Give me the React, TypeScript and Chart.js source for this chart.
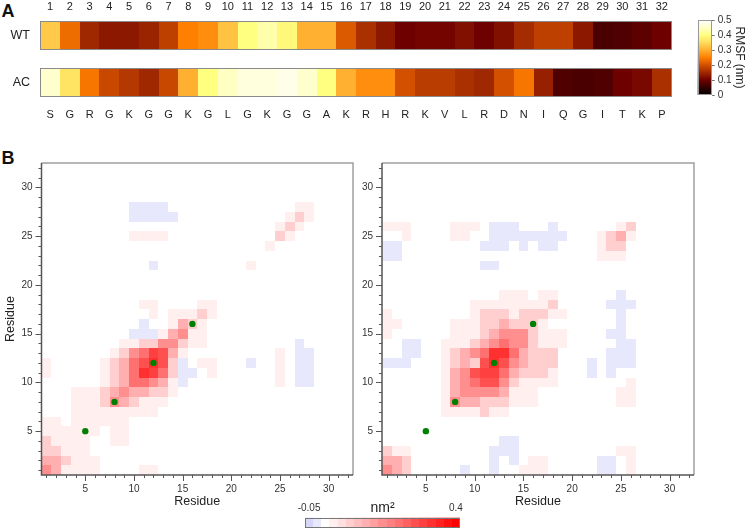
import React, { useEffect, useRef } from 'react';
import { Chart, registerables } from 'chart.js';

Chart.register(...registerables);

const FONT = "'Liberation Sans', Arial, Helvetica, sans-serif";
Chart.defaults.font.family = FONT;
Chart.defaults.color = '#333';

// ---------------- data ----------------
const residueNumbers = [1, 2, 3, 4, 5, 6, 7, 8, 9, 10, 11, 12, 13, 14, 15, 16, 17, 18, 19, 20, 21, 22, 23, 24, 25, 26, 27, 28, 29, 30, 31, 32];
const sequence = ['S', 'G', 'R', 'G', 'K', 'G', 'G', 'K', 'G', 'L', 'G', 'K', 'G', 'G', 'A', 'K', 'R', 'H', 'R', 'K', 'V', 'L', 'R', 'D', 'N', 'I', 'Q', 'G', 'I', 'T', 'K', 'P'];
const rowLabels = ['WT', 'AC'];
const rmsfWT = [0.33, 0.23, 0.15, 0.13, 0.13, 0.145, 0.18, 0.25, 0.265, 0.32, 0.40, 0.43, 0.39, 0.30, 0.30, 0.21, 0.16, 0.13, 0.10, 0.105, 0.105, 0.12, 0.10, 0.12, 0.155, 0.18, 0.18, 0.13, 0.07, 0.075, 0.085, 0.10];
const rmsfAC = [0.455, 0.36, 0.24, 0.19, 0.17, 0.15, 0.19, 0.30, 0.40, 0.445, 0.47, 0.47, 0.48, 0.455, 0.40, 0.30, 0.265, 0.265, 0.20, 0.175, 0.175, 0.16, 0.15, 0.20, 0.24, 0.14, 0.075, 0.07, 0.075, 0.10, 0.11, 0.16];
const rmsfTicks = [0, 0.1, 0.2, 0.3, 0.4, 0.5];
const residueTicks = [5, 10, 15, 20, 25, 30];
const diffLevels = [-0.05, -0.025, 0, 0.025, 0.05, 0.075, 0.1, 0.125, 0.15, 0.175, 0.2, 0.225, 0.25, 0.275, 0.3, 0.325, 0.35, 0.375, 0.4];
const diffTicks = [-0.05, 0.4];
const diffTickLabels = ['-0.05', '0.4'];
const anchorResidues = [5, 8, 12, 16];

// [residue i, residue j, value nm^2]
const leftMap: number[][] = [
  [10, 28, -0.02], [11, 28, -0.02], [12, 28, -0.02], [13, 28, -0.02], [27, 28, 0.03], [28, 28, 0.03],
  [10, 27, -0.02], [11, 27, -0.02], [12, 27, -0.02], [13, 27, -0.02], [14, 27, -0.02], [26, 27, 0.03], [27, 27, 0.07], [28, 27, 0.03],
  [25, 26, 0.03], [26, 26, 0.07], [27, 26, 0.03],
  [10, 25, 0.03], [11, 25, 0.03], [12, 25, 0.03], [13, 25, 0.03], [25, 25, 0.07], [26, 25, 0.03],
  [24, 24, 0.03],
  [12, 22, -0.02], [22, 22, 0.03],
  [11, 18, 0.03], [12, 18, 0.03], [17, 18, 0.03], [18, 18, 0.03],
  [12, 17, 0.03], [14, 17, 0.03], [15, 17, 0.03], [16, 17, 0.03], [17, 17, 0.07], [18, 17, 0.03],
  [11, 16, -0.02], [14, 16, 0.03], [15, 16, 0.12], [16, 16, 0.07], [17, 16, 0.03],
  [10, 15, -0.02], [11, 15, -0.02], [12, 15, -0.02], [13, 15, 0.03], [14, 15, 0.12], [15, 15, 0.17], [16, 15, 0.03], [17, 15, 0.03],
  [9, 14, 0.03], [10, 14, 0.03], [11, 14, 0.07], [12, 14, 0.07], [13, 14, 0.17], [14, 14, 0.17], [15, 14, 0.07], [16, 14, 0.03], [17, 14, 0.03], [27, 14, -0.02],
  [8, 13, 0.03], [9, 13, 0.07], [10, 13, 0.17], [11, 13, 0.22], [12, 13, 0.29], [13, 13, 0.27], [14, 13, 0.12], [15, 13, 0.03], [25, 13, 0.03], [27, 13, -0.02], [28, 13, -0.02],
  [1, 12, 0.03], [7, 12, 0.03], [8, 12, 0.07], [9, 12, 0.12], [10, 12, 0.22], [11, 12, 0.27], [12, 12, 0.32], [13, 12, 0.27], [14, 12, 0.07], [15, 12, -0.02], [17, 12, 0.03], [18, 12, 0.03], [22, 12, -0.02], [25, 12, 0.03], [27, 12, -0.02], [28, 12, -0.02],
  [1, 11, 0.03], [7, 11, 0.03], [8, 11, 0.07], [9, 11, 0.12], [10, 11, 0.22], [11, 11, 0.32], [12, 11, 0.29], [13, 11, 0.22], [14, 11, 0.07], [15, 11, -0.02], [16, 11, -0.02], [18, 11, 0.03], [25, 11, 0.03], [27, 11, -0.02], [28, 11, -0.02],
  [7, 10, 0.03], [8, 10, 0.07], [9, 10, 0.12], [10, 10, 0.22], [11, 10, 0.22], [12, 10, 0.17], [13, 10, 0.12], [14, 10, 0.03], [15, 10, -0.02], [25, 10, 0.03], [27, 10, -0.02], [28, 10, -0.02],
  [4, 9, 0.03], [5, 9, 0.03], [6, 9, 0.03], [7, 9, 0.07], [8, 9, 0.12], [9, 9, 0.17], [10, 9, 0.12], [11, 9, 0.12], [12, 9, 0.07], [13, 9, 0.07], [14, 9, 0.03],
  [4, 8, 0.03], [5, 8, 0.03], [6, 8, 0.03], [7, 8, 0.07], [8, 8, 0.17], [9, 8, 0.12], [10, 8, 0.07], [11, 8, 0.03], [12, 8, 0.03], [13, 8, 0.03],
  [4, 7, 0.03], [5, 7, 0.03], [6, 7, 0.03], [7, 7, 0.03], [8, 7, 0.03], [9, 7, 0.03], [10, 7, 0.03], [11, 7, 0.03], [12, 7, 0.03],
  [1, 6, 0.03], [2, 6, 0.03], [4, 6, 0.03], [5, 6, 0.03], [6, 6, 0.03], [7, 6, 0.03], [8, 6, 0.03], [9, 6, 0.03],
  [1, 5, 0.03], [2, 5, 0.03], [3, 5, 0.03], [4, 5, 0.03], [5, 5, 0.03], [6, 5, 0.03], [8, 5, 0.03], [9, 5, 0.03],
  [1, 4, 0.07], [2, 4, 0.03], [3, 4, 0.03], [4, 4, 0.03], [5, 4, 0.03], [8, 4, 0.03], [9, 4, 0.03],
  [1, 3, 0.07], [2, 3, 0.07], [3, 3, 0.03], [4, 3, 0.03], [5, 3, 0.03],
  [1, 2, 0.12], [2, 2, 0.12], [3, 2, 0.07], [4, 2, 0.03], [5, 2, 0.03], [6, 2, 0.03],
  [1, 1, 0.17], [2, 1, 0.12], [3, 1, 0.03], [4, 1, 0.03], [5, 1, 0.03], [6, 1, 0.03], [11, 1, 0.03], [12, 1, 0.03],
];

const rightMap: number[][] = [
  [1, 26, 0.03], [2, 26, 0.03], [3, 26, 0.03], [8, 26, 0.03], [9, 26, 0.03], [10, 26, 0.03], [12, 26, -0.02], [13, 26, -0.02], [14, 26, -0.02], [18, 26, -0.02], [25, 26, 0.03], [26, 26, 0.07],
  [3, 25, 0.03], [8, 25, 0.03], [9, 25, 0.03], [12, 25, -0.02], [13, 25, -0.02], [14, 25, -0.02], [15, 25, -0.02], [16, 25, -0.02], [17, 25, -0.02], [18, 25, -0.02], [19, 25, -0.02], [23, 25, 0.03], [24, 25, 0.07], [25, 25, 0.12], [26, 25, 0.03],
  [1, 24, -0.02], [2, 24, -0.02], [11, 24, -0.02], [12, 24, -0.02], [13, 24, -0.02], [15, 24, -0.02], [17, 24, -0.02], [18, 24, -0.02], [23, 24, 0.03], [24, 24, 0.07], [25, 24, 0.07],
  [1, 23, -0.02], [2, 23, -0.02], [23, 23, 0.03], [24, 23, 0.03], [25, 23, 0.03],
  [11, 22, -0.02], [12, 22, -0.02],
  [13, 19, 0.03], [14, 19, 0.03], [15, 19, 0.03], [17, 19, 0.03], [18, 19, 0.03], [25, 19, -0.02],
  [10, 18, 0.03], [11, 18, 0.03], [12, 18, 0.03], [13, 18, 0.03], [14, 18, 0.03], [15, 18, 0.03], [16, 18, 0.03], [17, 18, 0.03], [18, 18, 0.07], [24, 18, -0.02], [25, 18, -0.02], [26, 18, -0.02],
  [1, 17, 0.03], [10, 17, 0.03], [11, 17, 0.07], [12, 17, 0.07], [13, 17, 0.07], [14, 17, 0.03], [15, 17, 0.07], [16, 17, 0.07], [17, 17, 0.07], [18, 17, 0.03], [19, 17, 0.03], [25, 17, -0.02],
  [1, 16, 0.03], [2, 16, 0.03], [8, 16, 0.03], [9, 16, 0.03], [10, 16, 0.03], [11, 16, 0.07], [12, 16, 0.07], [13, 16, 0.12], [14, 16, 0.07], [15, 16, 0.07], [16, 16, 0.07], [17, 16, 0.03], [25, 16, -0.02],
  [1, 15, 0.03], [8, 15, 0.03], [9, 15, 0.03], [10, 15, 0.03], [11, 15, 0.07], [12, 15, 0.12], [13, 15, 0.17], [14, 15, 0.17], [15, 15, 0.17], [16, 15, 0.07], [17, 15, 0.03], [18, 15, 0.03], [19, 15, 0.03], [24, 15, -0.02], [25, 15, -0.02],
  [3, 14, -0.02], [4, 14, -0.02], [7, 14, 0.03], [8, 14, 0.03], [9, 14, 0.03], [10, 14, 0.07], [11, 14, 0.12], [12, 14, 0.17], [13, 14, 0.22], [14, 14, 0.17], [15, 14, 0.17], [16, 14, 0.07], [17, 14, 0.03], [18, 14, 0.03], [19, 14, 0.03], [25, 14, -0.02], [26, 14, -0.02],
  [3, 13, -0.02], [4, 13, -0.02], [7, 13, 0.03], [8, 13, 0.07], [9, 13, 0.12], [10, 13, 0.17], [11, 13, 0.22], [12, 13, 0.32], [13, 13, 0.32], [14, 13, 0.22], [15, 13, 0.12], [16, 13, 0.07], [17, 13, 0.07], [18, 13, 0.07], [24, 13, -0.02], [25, 13, -0.02], [26, 13, -0.02],
  [1, 12, -0.02], [2, 12, -0.02], [3, 12, -0.02], [7, 12, 0.03], [8, 12, 0.07], [9, 12, 0.12], [10, 12, 0.07], [11, 12, 0.27], [12, 12, 0.32], [13, 12, 0.27], [14, 12, 0.17], [15, 12, 0.12], [16, 12, 0.07], [17, 12, 0.07], [18, 12, 0.07], [22, 12, -0.02], [24, 12, -0.02], [25, 12, -0.02], [26, 12, -0.02],
  [7, 11, 0.03], [8, 11, 0.12], [9, 11, 0.17], [10, 11, 0.27], [11, 11, 0.29], [12, 11, 0.29], [13, 11, 0.22], [14, 11, 0.12], [15, 11, 0.07], [16, 11, 0.07], [17, 11, 0.07], [18, 11, 0.03], [22, 11, -0.02], [24, 11, -0.02],
  [7, 10, 0.03], [8, 10, 0.12], [9, 10, 0.17], [10, 10, 0.22], [11, 10, 0.27], [12, 10, 0.27], [13, 10, 0.17], [14, 10, 0.07], [15, 10, 0.03], [16, 10, 0.03], [17, 10, 0.03], [18, 10, 0.03], [26, 10, 0.03],
  [7, 9, 0.03], [8, 9, 0.12], [9, 9, 0.17], [10, 9, 0.17], [11, 9, 0.17], [12, 9, 0.17], [13, 9, 0.12], [14, 9, 0.03], [15, 9, 0.03], [16, 9, 0.03], [25, 9, 0.03], [26, 9, 0.03],
  [7, 8, 0.03], [8, 8, 0.17], [9, 8, 0.12], [10, 8, 0.12], [11, 8, 0.07], [12, 8, 0.07], [13, 8, 0.07], [14, 8, 0.03], [15, 8, 0.03], [16, 8, 0.03], [25, 8, 0.03], [26, 8, 0.03],
  [7, 7, 0.03], [8, 7, 0.03], [9, 7, 0.03], [10, 7, 0.03], [11, 7, 0.07], [12, 7, 0.03], [13, 7, 0.03],
  [13, 4, -0.02], [14, 4, -0.02],
  [1, 3, 0.07], [2, 3, 0.03], [3, 3, 0.03], [12, 3, -0.02], [13, 3, -0.02], [14, 3, -0.02], [25, 3, 0.03], [26, 3, 0.03],
  [1, 2, 0.12], [2, 2, 0.12], [3, 2, 0.07], [12, 2, -0.02], [14, 2, -0.02], [16, 2, 0.03], [17, 2, 0.03], [23, 2, -0.02], [24, 2, -0.02], [26, 2, 0.03],
  [1, 1, 0.17], [2, 1, 0.12], [3, 1, 0.07], [9, 1, -0.02], [12, 1, -0.02], [15, 1, 0.03], [16, 1, 0.03], [17, 1, 0.03], [23, 1, -0.02], [24, 1, -0.02], [26, 1, 0.03],
];

// ---------------- colour scales ----------------
const hotStops: [number, number[]][] = [
  [0, [0, 0, 0]], [0.05, [50, 0, 0]], [0.1, [110, 0, 0]], [0.15, [160, 40, 0]], [0.2, [210, 80, 0]],
  [0.25, [255, 128, 0]], [0.3, [255, 176, 48]], [0.35, [255, 220, 90]], [0.4, [255, 255, 128]],
  [0.45, [255, 255, 200]], [0.5, [255, 255, 255]],
];
function hotColor(v: number): string {
  if (v <= hotStops[0][0]) return `rgb(${hotStops[0][1].join(',')})`;
  for (let i = 1; i < hotStops.length; i++) {
    const [v1, c1] = hotStops[i];
    const [v0, c0] = hotStops[i - 1];
    if (v <= v1) {
      const t = (v - v0) / (v1 - v0);
      const c = c0.map((a, k) => Math.round(a + (c1[k] - a) * t));
      return `rgb(${c.join(',')})`;
    }
  }
  return 'rgb(255,255,255)';
}
function diffColor(v: number): string {
  let k = Math.round((v - diffLevels[0]) / 0.025);
  k = Math.max(0, Math.min(diffLevels.length - 1, k));
  if (k === 0) return 'rgb(214,214,248)';
  if (k === 1) return 'rgb(232,232,253)';
  const f = (k - 2) / (diffLevels.length - 3);
  const c = Math.round(255 * (1 - f));
  return `rgb(255,${c},${c})`;
}

// ---------------- plugins ----------------
const stripPlugin = {
  id: 'rmsfStrips',
  beforeDatasetsDraw(chart: any) {
    const { ctx, scales } = chart;
    const x = scales.x;
    const y = scales.y;
    [rmsfWT, rmsfAC].forEach((row, r) => {
      const ya = Math.round(y.getPixelForValue(r - 0.302));
      const yb = Math.round(y.getPixelForValue(r + 0.302));
      const top = Math.min(ya, yb);
      const h = Math.abs(yb - ya);
      row.forEach((v, i) => {
        const x0 = Math.round(x.getPixelForValue(residueNumbers[i] - 0.5));
        const x1 = Math.round(x.getPixelForValue(residueNumbers[i] + 0.5));
        ctx.fillStyle = hotColor(v);
        ctx.fillRect(x0, top, x1 - x0, h);
      });
      const l = Math.round(x.getPixelForValue(0.5));
      const rr = Math.round(x.getPixelForValue(32.5));
      ctx.save();
      ctx.strokeStyle = '#8a8a8a';
      ctx.lineWidth = 1;
      ctx.strokeRect(l + 0.5, top + 0.5, rr - l - 1, h - 1);
      ctx.restore();
    });
  },
};

const rmsfBarPlugin = {
  id: 'rmsfBar',
  beforeDatasetsDraw(chart: any) {
    const { ctx, chartArea: a, scales: { y } } = chart;
    const y0 = y.getPixelForValue(0);
    const y1 = y.getPixelForValue(0.5);
    const g = ctx.createLinearGradient(0, y0, 0, y1);
    hotStops.forEach(([v]) => g.addColorStop(v / 0.5, hotColor(v)));
    ctx.save();
    ctx.fillStyle = g;
    ctx.fillRect(a.left, y1, a.right - a.left, y0 - y1);
    ctx.strokeStyle = '#999';
    ctx.lineWidth = 1;
    ctx.strokeRect(Math.round(a.left) + 0.5, Math.round(y1) + 0.5, Math.round(a.right - a.left) - 1, Math.round(y0 - y1) - 1);
    ctx.restore();
  },
};

const diffBarPlugin = {
  id: 'diffBar',
  beforeDatasetsDraw(chart: any) {
    const { ctx, chartArea: a, scales: { x } } = chart;
    ctx.save();
    diffLevels.forEach((v) => {
      const x0 = Math.round(x.getPixelForValue(v - 0.0125));
      const x1 = Math.round(x.getPixelForValue(v + 0.0125));
      ctx.fillStyle = diffColor(v);
      ctx.fillRect(x0, a.top, x1 - x0, a.bottom - a.top);
    });
    ctx.strokeStyle = '#777';
    ctx.lineWidth = 1;
    ctx.strokeRect(Math.round(a.left) + 0.5, Math.round(a.top) + 0.5, Math.round(a.right - a.left) - 1, Math.round(a.bottom - a.top) - 1);
    ctx.restore();
  },
};

function makeCellPlugin(cells: number[][]) {
  return {
    id: 'cells',
    beforeDatasetsDraw(chart: any) {
      const { ctx, chartArea: a, scales: { x, y } } = chart;
      ctx.save();
      ctx.beginPath();
      ctx.rect(a.left, a.top, a.right - a.left, a.bottom - a.top);
      ctx.clip();
      for (const [cx, cy, v] of cells) {
        const x0 = Math.round(x.getPixelForValue(cx - 0.5));
        const x1 = Math.round(x.getPixelForValue(cx + 0.5));
        const y0 = Math.round(y.getPixelForValue(cy + 0.5));
        const y1 = Math.round(y.getPixelForValue(cy - 0.5));
        ctx.fillStyle = diffColor(v);
        ctx.fillRect(x0, y0, x1 - x0, y1 - y0);
      }
      ctx.restore();
    },
  };
}

const framePlugin = {
  id: 'frame',
  afterDraw(chart: any) {
    const { ctx, chartArea: a, scales: { x, y } } = chart;
    ctx.save();
    ctx.lineWidth = 1.5;
    ctx.strokeStyle = '#a0a0a0';
    ctx.beginPath();
    ctx.moveTo(a.left, a.top);
    ctx.lineTo(a.right, a.top);
    ctx.lineTo(a.right, a.bottom);
    ctx.stroke();
    ctx.strokeStyle = '#555';
    ctx.beginPath();
    ctx.moveTo(a.left, a.top);
    ctx.lineTo(a.left, a.bottom);
    ctx.lineTo(a.right, a.bottom);
    ctx.stroke();
    ctx.lineWidth = 1;
    ctx.beginPath();
    x.ticks.forEach((t: any) => {
      const p = Math.round(x.getPixelForValue(t.value)) + 0.5;
      const len = residueTicks.includes(t.value) ? 6 : 3;
      ctx.moveTo(p, a.bottom);
      ctx.lineTo(p, a.bottom + len);
    });
    y.ticks.forEach((t: any) => {
      const p = Math.round(y.getPixelForValue(t.value)) + 0.5;
      const len = residueTicks.includes(t.value) ? 6 : 3;
      ctx.moveTo(a.left, p);
      ctx.lineTo(a.left - len, p);
    });
    ctx.stroke();
    ctx.restore();
  },
};

// ---------------- chart configs ----------------
const baseOptions = {
  responsive: false,
  animation: false as const,
  devicePixelRatio: 1,
  events: [] as any[],
  plugins: { legend: { display: false }, tooltip: { enabled: false } },
};

function buildStrip(): any {
  const residueAxis = (position: string, h: number, pad: number, cb: (v: number) => string) => ({
    type: 'linear',
    position,
    min: 0.5,
    max: 32.5,
    afterBuildTicks: (a: any) => { a.ticks = residueNumbers.map((v) => ({ value: v })); },
    afterFit: (a: any) => { a.height = h; },
    grid: { display: false, drawTicks: false },
    border: { display: false },
    ticks: { autoSkip: false, maxRotation: 0, padding: pad, font: { size: 11 }, color: '#222', callback: cb },
  });
  return {
    type: 'scatter',
    data: { datasets: [{ data: [] }] },
    options: {
      ...baseOptions,
      layout: { padding: { left: 0, right: 18.3, top: 0, bottom: 0 } },
      scales: {
        x: residueAxis('top', 21, 7.4, (v) => String(v)),
        x2: residueAxis('bottom', 33.3, 11.7, (v) => sequence[residueNumbers.indexOf(v)]),
        y: {
          type: 'linear',
          min: -0.302,
          max: 1.302,
          reverse: true,
          afterBuildTicks: (a: any) => { a.ticks = rowLabels.map((_, i) => ({ value: i })); },
          afterFit: (a: any) => { a.width = 40.3; },
          grid: { display: false, drawTicks: false },
          border: { display: false },
          ticks: { padding: 10.3, font: { size: 12.5 }, color: '#222', callback: (v: number) => rowLabels[v] },
        },
      },
    },
    plugins: [stripPlugin],
  };
}

function buildRmsfBar(): any {
  return {
    type: 'scatter',
    data: { datasets: [{ data: [] }] },
    options: {
      ...baseOptions,
      layout: { padding: { left: 7.7, right: 0, top: 20, bottom: 35 } },
      scales: {
        x: { type: 'linear', display: false, min: 0, max: 1 },
        y: {
          type: 'linear',
          position: 'right',
          min: 0,
          max: 0.5,
          afterBuildTicks: (a: any) => { a.ticks = rmsfTicks.map((v) => ({ value: v })); },
          afterFit: (a: any) => { a.width = 35.3; },
          grid: { display: true, drawOnChartArea: false, drawTicks: true, tickLength: 3, tickColor: '#777' },
          border: { display: false },
          ticks: { padding: 3, font: { size: 10 }, color: '#333', callback: (v: number) => String(v) },
          title: { display: true, text: 'RMSF (nm)', font: { size: 12 }, color: '#222', padding: { top: 0, bottom: 0 } },
        },
      },
    },
    plugins: [rmsfBarPlugin],
  };
}

function buildDiffBar(): any {
  return {
    type: 'scatter',
    data: { datasets: [{ data: [] }] },
    options: {
      ...baseOptions,
      layout: { padding: { left: 15, right: 20, top: 0, bottom: 2.3 } },
      scales: {
        x: {
          type: 'linear',
          position: 'top',
          min: -0.0625,
          max: 0.4125,
          afterBuildTicks: (a: any) => { a.ticks = diffTicks.map((v) => ({ value: v })); },
          afterFit: (a: any) => { a.height = 22.7; },
          grid: { display: false, drawTicks: false },
          border: { display: false },
          ticks: { autoSkip: false, maxRotation: 0, padding: 3, font: { size: 10 }, color: '#333', callback: (v: number) => diffTickLabels[diffTicks.indexOf(v)] },
          title: { display: true, text: 'nm²', font: { size: 14 }, color: '#222', padding: { top: 4.8, bottom: 0 } },
        },
        y: { type: 'linear', display: false, min: 0, max: 1 },
      },
    },
    plugins: [diffBarPlugin],
  };
}

function buildMap(cells: number[][], showYTitle: boolean, yWidth: number, rightPad: number): any {
  const residueAxis = (isX: boolean) => ({
    type: 'linear',
    min: 0.5,
    max: 32.5,
    afterBuildTicks: (a: any) => { a.ticks = residueNumbers.map((v) => ({ value: v })); },
    afterFit: (a: any) => { if (isX) a.height = 45; else a.width = yWidth; },
    grid: { display: true, drawOnChartArea: false, drawTicks: true, tickLength: 6, tickColor: 'rgba(0,0,0,0)' },
    border: { display: false },
    ticks: {
      autoSkip: false,
      maxRotation: 0,
      padding: isX ? 2 : 3,
      font: { size: 10 },
      color: '#333',
      callback: (v: number) => (residueTicks.includes(v) ? String(v) : ''),
    },
    title: {
      display: isX || showYTitle,
      text: 'Residue',
      font: { size: 12.5 },
      color: '#222',
      padding: isX ? { top: 0, bottom: 10.7 } : { top: 3.3, bottom: 0 },
    },
  });
  return {
    type: 'scatter',
    data: {
      datasets: [{
        data: anchorResidues.map((r) => ({ x: r, y: r })),
        pointRadius: 3.2,
        pointBorderWidth: 0,
        backgroundColor: '#008000',
        borderColor: '#008000',
      }],
    },
    options: {
      ...baseOptions,
      layout: { padding: { left: 0, right: rightPad, top: 18, bottom: 0 } },
      scales: { x: residueAxis(true), y: residueAxis(false) },
    },
    plugins: [makeCellPlugin(cells), framePlugin],
  };
}

// ---------------- components ----------------
function ChartCanvas(props: { left: number; top: number; width: number; height: number; build: () => any }) {
  const ref = useRef<HTMLCanvasElement>(null);
  useEffect(() => {
    const chart = new Chart(ref.current as HTMLCanvasElement, props.build());
    return () => chart.destroy();
  }, []);
  return (
    <canvas
      ref={ref}
      width={props.width}
      height={props.height}
      style={{ position: 'absolute', left: props.left, top: props.top, width: props.width, height: props.height }}
    />
  );
}

const letterStyle: React.CSSProperties = {
  position: 'absolute',
  fontSize: 18,
  lineHeight: '18px',
  fontWeight: 'bold',
  color: '#111',
  fontFamily: FONT,
};

export default function App() {
  return (
    <div style={{ position: 'absolute', left: 0, top: 0, width: 747, height: 530, background: '#fff', fontFamily: FONT, overflow: 'hidden' }}>
      <div style={{ ...letterStyle, left: 1.5, top: 1.6 }}>A</div>
      <div style={{ ...letterStyle, left: 1.5, top: 149.3 }}>B</div>
      <ChartCanvas left={0} top={0} width={690} height={130} build={buildStrip} />
      <ChartCanvas left={690} top={0} width={57} height={130} build={buildRmsfBar} />
      <ChartCanvas left={0} top={145} width={360} height={375} build={() => buildMap(leftMap, true, 41.5, 7)} />
      <ChartCanvas left={360} top={145} width={347} height={375} build={() => buildMap(rightMap, false, 22, 13)} />
      <ChartCanvas left={290} top={495} width={190} height={35} build={buildDiffBar} />
    </div>
  );
}
